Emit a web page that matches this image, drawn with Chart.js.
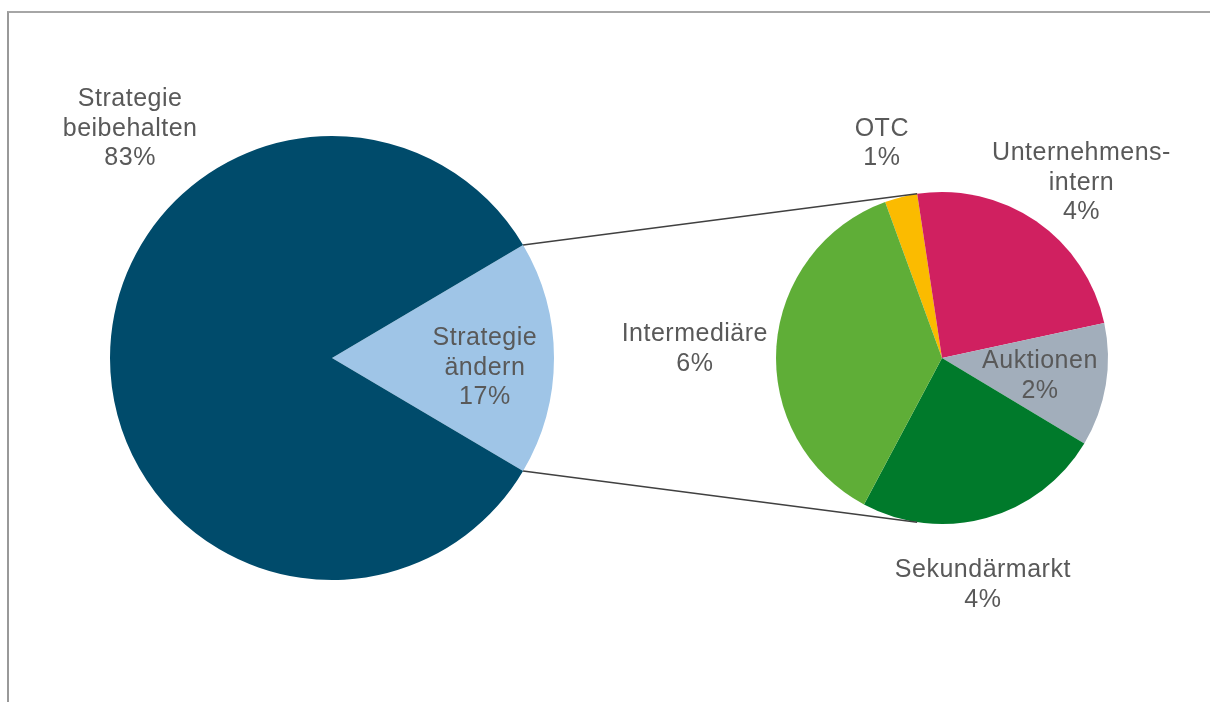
<!DOCTYPE html>
<html>
<head>
<meta charset="utf-8">
<script src="https://cdn.jsdelivr.net/npm/chart.js@4.4.1/dist/chart.umd.min.js"></script>
<style>
  html, body { margin: 0; padding: 0; background: #fff; }
  #wrap { position: relative; width: 1210px; height: 702px; overflow: hidden; }
  #wrap canvas { position: absolute; left: 0; top: 0; }
  #frame { position: absolute; left: 7px; top: 11px; right: -10px; bottom: -10px;
           border-top: 2px solid #a6a6a6; border-left: 2px solid #999; }
</style>
</head>
<body>
<div id="wrap">
  <div id="frame"></div>
  <canvas id="main" width="1210" height="702"></canvas>
  <canvas id="sub" width="1210" height="702"></canvas>
</div>
<script>
// Main pie
const mainLabels = [['Strategie', 'ändern'], ['Strategie', 'beibehalten']];
const mainValues = [17, 83];
const mainColors = ['#9fc5e7', '#004b6b'];

// Secondary pie (breakdown of "Strategie ändern")
const subLabels = [['OTC'], ['Unternehmens-', 'intern'], ['Auktionen'], ['Sekundärmarkt'], ['Intermediäre']];
const subValues = [0.54, 4.08, 2.04, 4.11, 6.23];
const subColors = ['#fbbb00', '#d02060', '#a2aebb', '#007a2b', '#5fae37'];

// label placement: angle (deg, clockwise from top) and distance in radii
const mainLabelPos = [{ angle: 93.7, dist: 0.69 }, { angle: -41.4, dist: 1.375 }];
const subLabelPos = [
  { angle: -15.7, dist: 1.34 },
  { angle: 38.5, dist: 1.35 },
  { angle: 100.4, dist: 0.6 },
  { angle: 169.8, dist: 1.39 },
  { angle: -87.9, dist: 1.49 },
];

const FONT = '25px "Liberation Sans", Arial, sans-serif';
const TEXT = '#595959';

function labelPlugin(labels, values, pos) {
  return {
    id: 'sliceLabels',
    afterDraw(chart) {
      const ctx = chart.ctx;
      const arcs = chart.getDatasetMeta(0).data;
      ctx.save();
      ctx.font = FONT;
      if ('letterSpacing' in ctx) ctx.letterSpacing = '0.5px';
      ctx.fillStyle = TEXT;
      ctx.textAlign = 'center';
      ctx.textBaseline = 'middle';
      arcs.forEach((arc, i) => {
        const { x, y, outerRadius } = arc.getProps(['x', 'y', 'outerRadius'], true);
        const a = (pos[i].angle - 90) * Math.PI / 180;
        const d = pos[i].dist * outerRadius;
        const cx = x + Math.cos(a) * d;
        const cy = y + Math.sin(a) * d;
        const lines = [...labels[i], Math.round(values[i]) + '%'];
        const lh = 29.5;
        lines.forEach((t, k) => ctx.fillText(t, cx, cy + (k - (lines.length - 1) / 2) * lh));
      });
      ctx.restore();
    }
  };
}

function pieOptions(rotation, padding) {
  return {
    responsive: false,
    animation: false,
    events: [],
    rotation,
    layout: { padding },
    plugins: { legend: { display: false }, tooltip: { enabled: false } },
  };
}

const mainChart = new Chart(document.getElementById('main'), {
  type: 'pie',
  data: {
    labels: mainLabels.map(l => l.join(' ')),
    datasets: [{ data: mainValues, backgroundColor: mainColors, borderWidth: 0 }],
  },
  options: pieOptions(90 - mainValues[0] * 1.8, { left: 110, right: 656, top: 136, bottom: 122 }),
  plugins: [labelPlugin(mainLabels, mainValues, mainLabelPos)],
});

// lines from the "ändern" slice edges to the secondary pie
const connectors = {
  id: 'connectors',
  afterDraw(chart) {
    const m = mainChart.getDatasetMeta(0).data[0].getProps(['x', 'y', 'startAngle', 'endAngle', 'outerRadius'], true);
    const s = chart.getDatasetMeta(0).data[1].getProps(['x', 'y', 'startAngle', 'outerRadius'], true);
    const ctx = chart.ctx;
    const sa = s.startAngle;
    ctx.save();
    ctx.strokeStyle = '#404040';
    ctx.lineWidth = 1.5;
    ctx.beginPath();
    ctx.moveTo(m.x + Math.cos(m.startAngle) * m.outerRadius, m.y + Math.sin(m.startAngle) * m.outerRadius);
    ctx.lineTo(s.x + Math.cos(sa) * s.outerRadius, s.y + Math.sin(sa) * s.outerRadius);
    ctx.moveTo(m.x + Math.cos(m.endAngle) * m.outerRadius, m.y + Math.sin(m.endAngle) * m.outerRadius);
    ctx.lineTo(s.x + Math.cos(sa) * s.outerRadius, s.y - Math.sin(sa) * s.outerRadius);
    ctx.stroke();
    ctx.restore();
  }
};

const subTotal = subValues.reduce((a, b) => a + b, 0);
const subChart = new Chart(document.getElementById('sub'), {
  type: 'pie',
  data: {
    labels: subLabels.map(l => l.join('')),
    datasets: [{ data: subValues, backgroundColor: subColors, borderWidth: 0 }],
  },
  options: pieOptions(-8.6 - subValues[0] / subTotal * 360, { left: 776, right: 102, top: 192, bottom: 178 }),
  plugins: [connectors, labelPlugin(subLabels, subValues, subLabelPos)],
});
</script>
</body>
</html>
